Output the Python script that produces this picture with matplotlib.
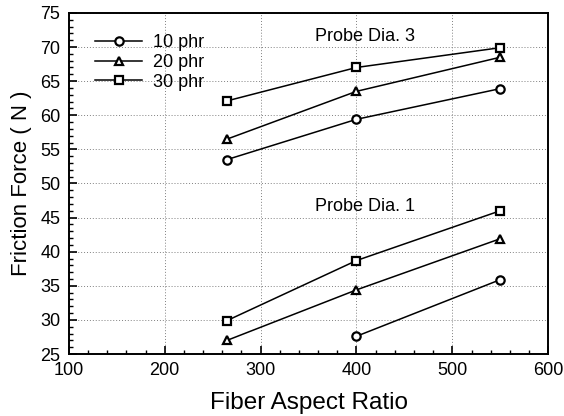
import matplotlib
matplotlib.use('Agg')
import matplotlib.pyplot as plt
from matplotlib.ticker import MultipleLocator

plt.rcParams['font.family'] = ['Liberation Sans', 'DejaVu Sans']

aspect = [265, 400, 550]
labels = ['10 phr', '20 phr', '30 phr']
markers = ['o', '^', 's']

# Probe Dia. 3
p3_10 = [53.5, 59.4, 63.9]
p3_20 = [56.5, 63.5, 68.5]
p3_30 = [62.1, 67.0, 69.9]
# Probe Dia. 1
p1_10_x = [400, 550]
p1_10 = [27.6, 35.9]
p1_20 = [27.0, 34.4, 41.9]
p1_30 = [29.9, 38.7, 46.0]

fig = plt.figure(figsize=(5.64, 4.16), dpi=100)
ax = fig.add_axes([0.122, 0.149, 0.850, 0.820])

style = dict(color='black', lw=1.1, ms=6, mfc='white', mew=1.6)
for ys, lab, m in zip([p3_10, p3_20, p3_30], labels, markers):
    ax.plot(aspect, ys, marker=m, label=lab, **style)
ax.plot(p1_10_x, p1_10, marker='o', **style)
ax.plot(aspect, p1_20, marker='^', **style)
ax.plot(aspect, p1_30, marker='s', **style)

ax.text(357, 71.5, 'Probe Dia. 3', fontsize=13, va='center', ha='left')
ax.text(357, 46.6, 'Probe Dia. 1', fontsize=13, va='center', ha='left')

ax.set_xlim(100, 600)
ax.set_ylim(25, 75)
ax.xaxis.set_major_locator(MultipleLocator(100))
ax.xaxis.set_minor_locator(MultipleLocator(20))
ax.yaxis.set_major_locator(MultipleLocator(5))
ax.yaxis.set_minor_locator(MultipleLocator(1))
ax.tick_params(which='both', direction='in', top=False, right=False, labelsize=13)
ax.tick_params(which='major', length=6, width=1.2, pad=6)
ax.tick_params(which='minor', length=3, width=1.0)
ax.grid(True, which='major', color='gray', ls=(0, (1, 2)), lw=0.7)
for s in ax.spines.values():
    s.set_linewidth(1.4)

ax.set_xlabel('Fiber Aspect Ratio', fontsize=17.5, labelpad=9)
ax.set_ylabel('Friction Force ( N )', fontsize=16, labelpad=6)

ax.legend(loc='upper left', frameon=False, fontsize=13, handlelength=2.6,
          bbox_to_anchor=(0.055, 0.937), borderaxespad=0, borderpad=0,
          labelspacing=0.15, handletextpad=0.6)

fig.savefig('out.png', dpi=100)
